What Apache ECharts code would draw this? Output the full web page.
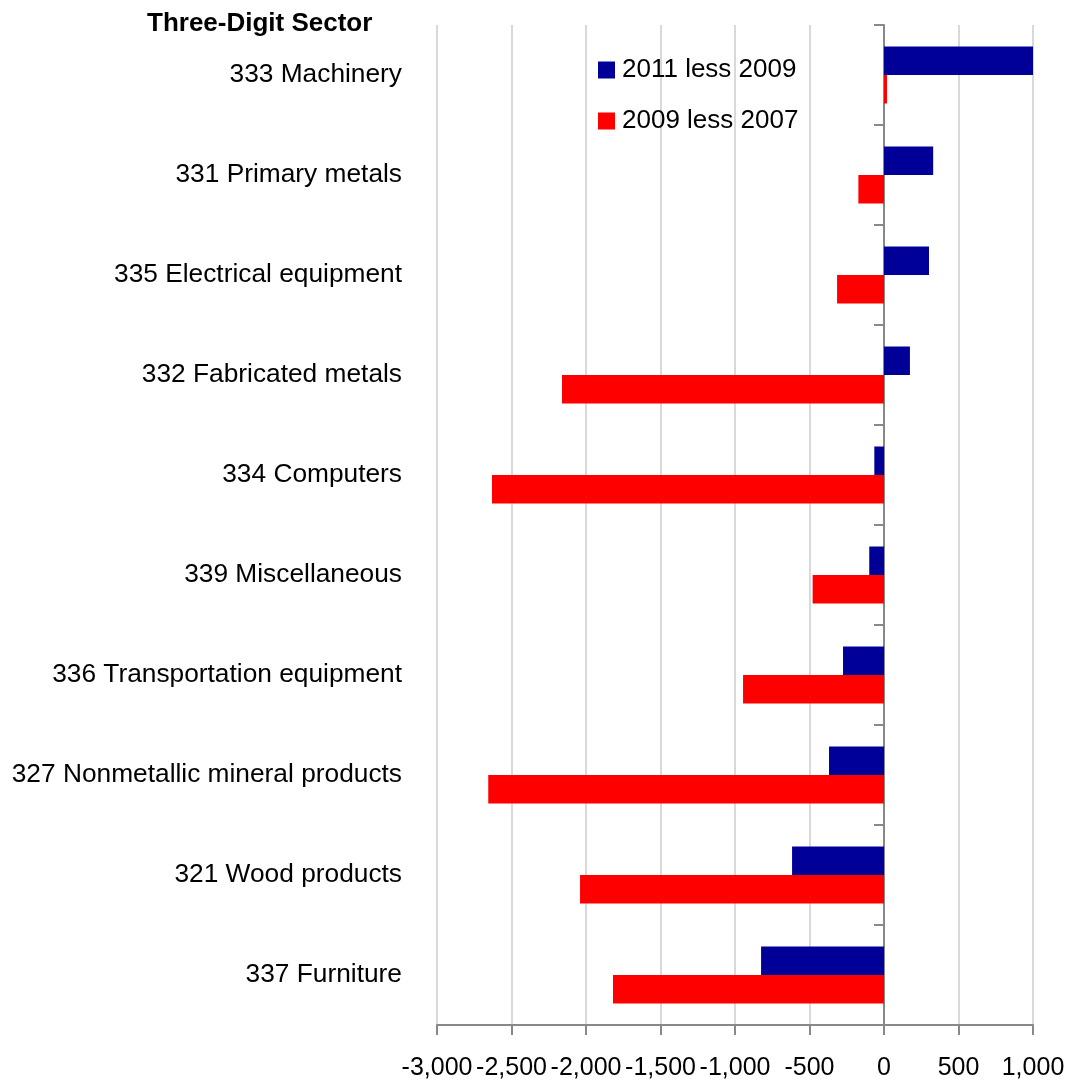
<!DOCTYPE html>
<html>
<head>
    <meta charset="utf-8"/>
    <title>Three-Digit Sector</title>
    <script src="https://cdn.jsdelivr.net/npm/echarts@6/dist/echarts.min.js"></script>
    <style type="text/css">
        html, body { margin: 0; padding: 0; background: #fff; }
        #main { width: 1082px; height: 1081px; }
    </style>
</head>
<body>
<div id="main"></div>
<script type="text/javascript">
    // sectors, top to bottom
    var sectors = [
        '333 Machinery',
        '331 Primary metals',
        '335 Electrical equipment',
        '332 Fabricated metals',
        '334 Computers',
        '339 Miscellaneous',
        '336 Transportation equipment',
        '327 Nonmetallic mineral products',
        '321 Wood products',
        '337 Furniture'
    ];
    var seriesNames = ['2011 less 2009', '2009 less 2007'];
    var change2011 = [1000, 330, 302, 174, -65, -99, -275, -369, -617, -825];
    var change2007 = [20, -172, -315, -2161, -2631, -479, -946, -2656, -2040, -1819];

    var font = 'Liberation Sans, Arial, sans-serif';
    var myChart = echarts.init(document.getElementById('main'));

    var option = {
        backgroundColor: '#fff',
        animation: false,
        title: {
            text: 'Three-Digit Sector',
            left: 142,
            top: 6,
            textStyle: { fontFamily: font, fontSize: 26, fontWeight: 'bold', color: '#000' }
        },
        legend: {
            orient: 'vertical',
            left: 593,
            top: 52,
            itemWidth: 17,
            itemHeight: 17,
            itemGap: 25,
            icon: 'rect',
            data: seriesNames,
            textStyle: { fontFamily: font, fontSize: 26, color: '#000', padding: [0, 0, 0, 2] }
        },
        grid: { left: 437, right: 49, top: 25, bottom: 56 },
        xAxis: {
            type: 'value',
            min: -3000,
            max: 1000,
            interval: 500,
            axisLine: { show: true, lineStyle: { color: '#888', width: 2 } },
            axisTick: { show: true, length: 10, lineStyle: { color: '#888', width: 2 } },
            splitLine: { lineStyle: { color: '#d9d9d9', width: 2 } },
            axisLabel: {
                margin: 31,
                showMinLabel: true,
                showMaxLabel: true,
                hideOverlap: false,
                fontFamily: font,
                fontSize: 25,
                color: '#000',
                formatter: function (v) { return v.toLocaleString('en-US'); }
            }
        },
        yAxis: [
            {
                type: 'category',
                inverse: true,
                data: sectors,
                axisLine: { show: false, onZero: false },
                axisTick: { show: false },
                axisLabel: { margin: 35, fontFamily: font, fontSize: 26.3, color: '#000' }
            },
            {
                type: 'category',
                inverse: true,
                position: 'left',
                data: sectors,
                axisLine: { show: true, onZero: true, lineStyle: { color: '#888', width: 2 } },
                axisTick: { show: true, length: 10, lineStyle: { color: '#888', width: 2 } },
                axisLabel: { show: false }
            }
        ],
        series: [
            {
                name: seriesNames[0],
                type: 'bar',
                yAxisIndex: 0,
                data: change2011,
                barGap: '0%',
                barCategoryGap: '43%',
                itemStyle: { color: '#000099' }
            },
            {
                name: seriesNames[1],
                type: 'bar',
                yAxisIndex: 0,
                data: change2007,
                barGap: '0%',
                barCategoryGap: '43%',
                itemStyle: { color: '#ff0000' }
            }
        ]
    };
    myChart.setOption(option);
</script>
</body>
</html>
